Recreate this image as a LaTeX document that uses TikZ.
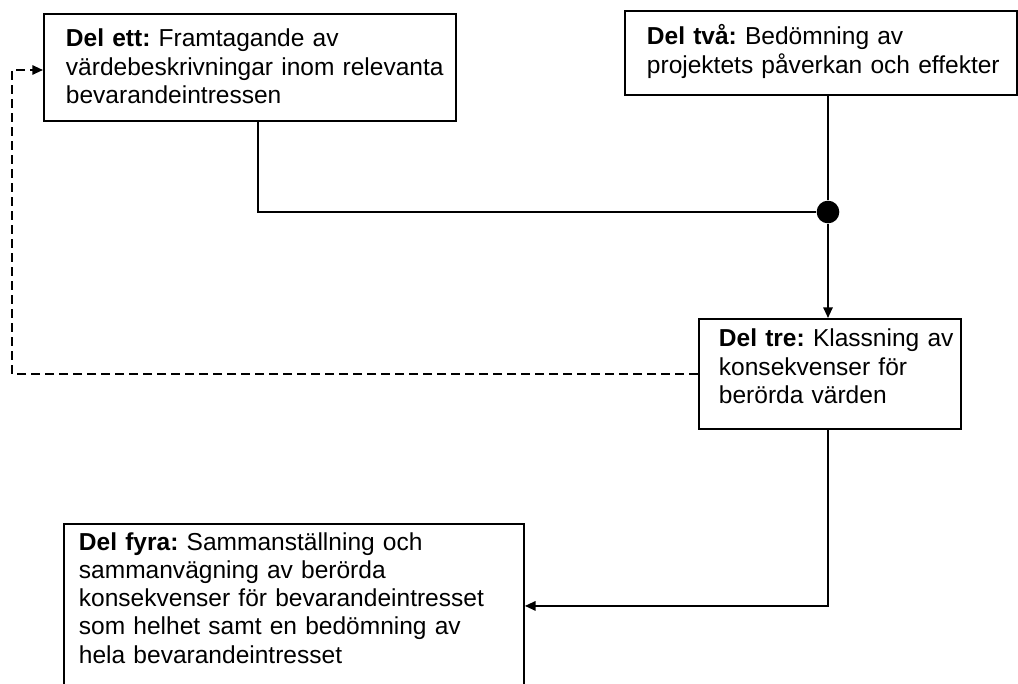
\documentclass[tikz,border=0pt]{standalone}
\usepackage{fontspec}
\setmainfont{Liberation Sans}
\frenchspacing
\usetikzlibrary{arrows.meta}

\begin{document}
\begin{tikzpicture}[x=0.75pt,y=-0.75pt,line width=1.4pt,
  >={Triangle[length=8pt,width=7pt]},
  ruta/.style={draw,anchor=north west,inner sep=0pt},
  tekst/.style={anchor=base west,inner sep=0pt,text width=330pt,align=left,
    font=\fontsize{18.4}{21.2}\selectfont}]
\useasboundingbox (0,0) rectangle (1018,684);
\clip (0,0) rectangle (1018,684);
\node[ruta,minimum width=309pt,minimum height=80.25pt] (ett) at (43,13) {};
\node[ruta,minimum width=294pt,minimum height=63pt] (tva) at (624,10) {};
\node[ruta,minimum width=196.5pt,minimum height=82.5pt] (tre) at (698,318) {};
\node[ruta,minimum width=345pt,minimum height=123pt] (fyra) at (63,523) {};
\node[tekst] (ettText) at (65,47) {\textbf{Del ett:} Framtagande av\\ värdebeskrivningar inom relevanta\\ bevarandeintressen};
\node[tekst] (tvaText) at (646,45) {\textbf{Del två:} Bedömning av\\ projektets påverkan och effekter};
\node[tekst] (treText) at (718,347) {\textbf{Del tre:} Klassning av\\ konsekvenser för\\ berörda värden};
\node[tekst] (fyraText) at (78,550) {\textbf{Del fyra:} Sammanställning och\\ sammanvägning av berörda\\ konsekvenser för bevarandeintresset\\ som helhet samt en bedömning av\\ hela bevarandeintresset};
\node[circle,fill,inner sep=0pt,minimum size=17pt] (knut) at (828,212) {};
\coordinate (varv) at (12,70);
\draw ([xshift=6pt]ett.south) |- (knut);
\draw (knut |- tva.south) -- (knut);
\draw[->] (knut) -- (knut |- tre.north);
\draw[->] (knut |- tre.south) |- (fyra.east);
\draw[->,dash pattern=on 7pt off 3.5pt] (tre.west) -| (varv) -- (varv -| ett.west);
\end{tikzpicture}
\end{document}
